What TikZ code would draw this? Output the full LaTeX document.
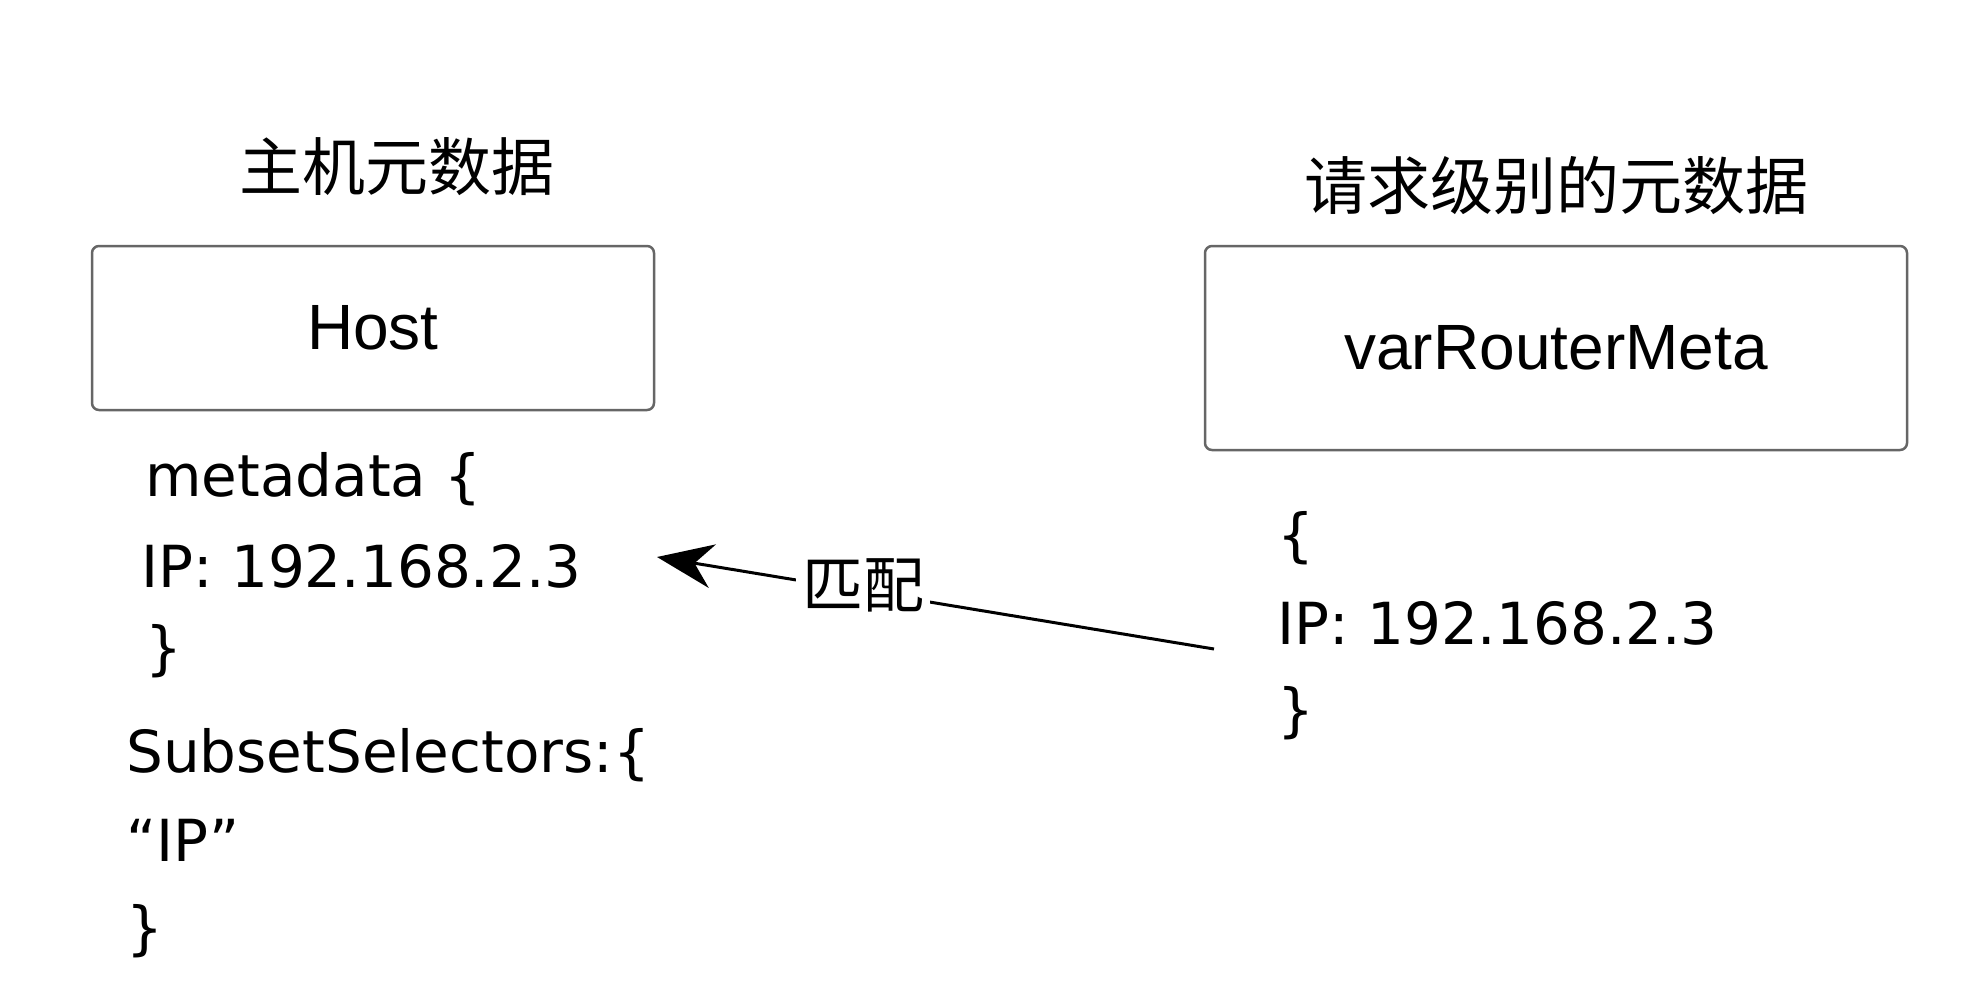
\documentclass[tikz,border=0pt]{standalone}
\usepackage{fontspec}
\setmainfont{Liberation Sans}
\newfontfamily\cjk{Noto Sans CJK SC}
\newfontfamily\hand{DejaVu Sans}
\usetikzlibrary{arrows.meta}
\begin{document}
\begin{tikzpicture}[x=1pt,y=-1pt,
  box/.style={draw=black!60, line width=2.5pt, rounded corners=7pt, fill=white, inner sep=0pt,
              font=\fontsize{64}{76}\selectfont},
  title/.style={font=\cjk\fontsize{63}{76}\selectfont, inner sep=0pt},
  code/.style={font=\hand\fontsize{58}{70}\selectfont, anchor=west, inner sep=0pt},
  arr/.style={line width=3pt, -{Stealth[length=56pt,width=44pt,inset=18pt]}},
  lbl/.style={font=\cjk\fontsize{61}{72}\selectfont, fill=white, inner sep=6pt}]
\useasboundingbox[fill=white] (0,0) rectangle (1972,1002);
% titles
\node[title] (t1) at (397,167) {主机元数据};
\node[title] (t2) at (1556,186) {请求级别的元数据};
% boxes
\node[box, minimum width=562pt, minimum height=164pt] (host) at (373,328) {Host};
\node[box, minimum width=702pt, minimum height=204pt] (meta) at (1556,348) {varRouterMeta};
% left code
\node[code] (l1) at (145,479) {metadata \{};
\node[code] (l2) at (141,566) {IP: 192.168.2.3};
\node[code] (l3) at (145,651) {\}};
\node[code] (l4) at (126,755) {SubsetSelectors:\{};
\node[code] (l5) at (126,840) {“IP”};
\node[code] (l6) at (126,931) {\}};
% right code
\node[code] (r1) at (1277,538) {\{};
\node[code] (r2) at (1277,623) {IP: 192.168.2.3};
\node[code] (r3) at (1277,713) {\}};
% connector
\coordinate (src) at (1214,649);
\coordinate (tip) at (657,557);
\draw[arr] (src) -- node[lbl, pos=0.63, yshift=6pt] (m) {匹配} (tip);
\end{tikzpicture}
\end{document}
